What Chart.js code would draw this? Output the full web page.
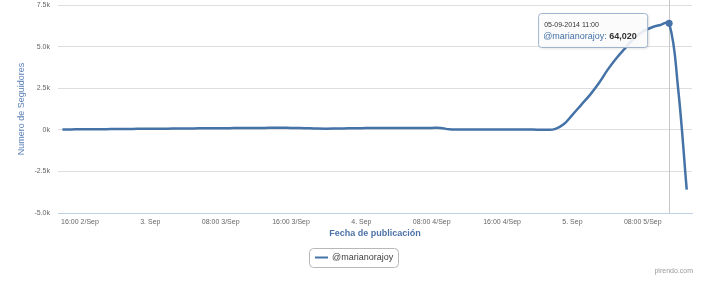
<!DOCTYPE html>
<html lang="es">
  <head>
    <title>seguidores</title>
    <meta charset="utf-8" />
    <script src="https://cdn.jsdelivr.net/npm/chart.js@4.4.9/dist/chart.umd.min.js"></script>
  </head>

  <body style="padding: 0; margin: 0; width: 720px; height: 283px; background: #fff">
    <canvas id="myChart" width="720" height="283"></canvas>

    <script>
      // hours counted from 00:00 2 Sep 2014
      const hours = [
        14, 15, 16, 17, 18, 19, 20, 21, 22, 23, 24, 25, 26, 27, 28, 29, 30, 31,
        32, 33, 34, 35, 36, 37, 38, 39, 40, 41, 42, 43, 44, 45, 46, 47, 48, 49,
        50, 51, 52, 53, 54, 55, 56, 57, 58, 59, 60, 61, 62, 63, 64, 65, 66, 67,
        68, 69, 70, 71, 72, 73, 74, 75, 76, 77, 78, 79, 80, 81, 82, 83, 84, 85,
      ];
      const seguidores = [
        20, 25, 30, 35, 40, 40, 45, 50, 55, 60, 60, 65, 70, 75, 80, 85, 90, 95,
        100, 100, 105, 110, 110, 115, 120, 120, 115, 110, 90, 75, 70, 75, 85, 95,
        100, 105, 105, 110, 110, 110, 105, 110, 115, 110, 30, 20, 20, 25, 25, 25,
        25, 25, 25, 20, 10, 0, 40, 330, 900, 1500, 2100, 2800, 3600, 4300, 4900,
        5500, 5900, 6150, 6300, 6402, 2600, -3600,
      ];
      const xTickHours = [16, 24, 32, 40, 48, 56, 64, 72, 80];
      const xTickLabels = [
        "16:00 2/Sep", "3. Sep", "08:00 3/Sep", "16:00 3/Sep", "4. Sep",
        "08:00 4/Sep", "16:00 4/Sep", "5. Sep", "08:00 5/Sep",
      ];
      const seriesName = "@marianorajoy";
      const tooltipDate = "05-09-2014 11:00";
      const tooltipValue = "64,020";

      const lineColor = "#4572a7";
      const fontFamily = "'Liberation Sans', Arial, sans-serif";
      const peakIndex = seguidores.indexOf(Math.max(...seguidores));

      const overlayPlugin = {
        id: "overlay",
        beforeDatasetsDraw(chart) {
          const pt = chart.getDatasetMeta(0).data[peakIndex];
          const { ctx, chartArea } = chart;
          ctx.save();
          ctx.strokeStyle = "#c8c8c8";
          ctx.lineWidth = 1;
          ctx.beginPath();
          ctx.moveTo(Math.round(pt.x) + 0.5, 0);
          ctx.lineTo(Math.round(pt.x) + 0.5, chartArea.bottom);
          ctx.stroke();
          ctx.restore();
        },
        afterDraw(chart) {
          const { ctx } = chart;
          const pt = chart.getDatasetMeta(0).data[peakIndex];
          ctx.save();

          // tooltip
          const bx = pt.x - 131, by = 13, bw = 109, bh = 34;
          ctx.shadowColor = "rgba(0,0,0,0.15)";
          ctx.shadowOffsetX = 1;
          ctx.shadowOffsetY = 1;
          ctx.shadowBlur = 3;
          ctx.fillStyle = "rgba(255,255,255,0.88)";
          ctx.strokeStyle = "#9fb3cf";
          ctx.lineWidth = 1;
          ctx.beginPath();
          ctx.roundRect(bx + 0.5, by + 0.5, bw, bh, 3);
          ctx.fill();
          ctx.shadowColor = "transparent";
          ctx.stroke();

          ctx.textBaseline = "middle";
          ctx.textAlign = "left";
          ctx.fillStyle = "#333";
          ctx.font = `7px ${fontFamily}`;
          ctx.fillText(tooltipDate, bx + 6, by + 12);
          ctx.font = `9px ${fontFamily}`;
          ctx.fillStyle = lineColor;
          const lbl = seriesName + ": ";
          ctx.fillText(lbl, bx + 5, by + 24);
          const w = ctx.measureText(lbl).width;
          ctx.font = `bold 9px ${fontFamily}`;
          ctx.fillStyle = "#333";
          ctx.fillText(tooltipValue, bx + 5 + w, by + 24);

          // legend
          const lx = 309, ly = 248, lw = 89, lh = 19;
          ctx.strokeStyle = "#b8b8b8";
          ctx.beginPath();
          ctx.roundRect(lx + 0.5, ly + 0.5, lw, lh, 4);
          ctx.stroke();
          ctx.strokeStyle = lineColor;
          ctx.lineWidth = 2;
          ctx.beginPath();
          ctx.moveTo(lx + 6, ly + 9.5);
          ctx.lineTo(lx + 19, ly + 9.5);
          ctx.stroke();
          ctx.font = `9px ${fontFamily}`;
          ctx.fillStyle = "#3e3e3e";
          ctx.fillText(seriesName, lx + 23, ly + 10);

          // credit
          ctx.font = `7px ${fontFamily}`;
          ctx.fillStyle = "#999";
          ctx.textAlign = "right";
          ctx.fillText("pirendo.com", 693, 271);
          ctx.restore();
        },
      };

      new Chart(document.getElementById("myChart"), {
        type: "line",
        data: {
          datasets: [
            {
              label: seriesName,
              data: hours.map((h, i) => ({ x: h, y: seguidores[i] })),
              borderColor: lineColor,
              backgroundColor: lineColor,
              borderWidth: 2.5,
              tension: 0.4,
              pointRadius: seguidores.map((_, i) => (i === peakIndex ? 3.5 : 0)),
              pointBorderWidth: 0,
            },
          ],
        },
        plugins: [overlayPlugin],
        options: {
          responsive: false,
          animation: false,
          layout: { padding: { left: 12, right: 28, top: 5, bottom: 40 } },
          plugins: { legend: { display: false }, tooltip: { enabled: false } },
          scales: {
            x: {
              type: "linear",
              min: 13.5,
              max: 85.6,
              afterBuildTicks: (s) => {
                s.ticks = xTickHours.map((v) => ({ value: v }));
              },
              afterFit: (s) => {
                s.height = 30;
                s.paddingLeft = 0;
                s.paddingRight = 0;
              },
              grid: { display: false, drawTicks: false },
              border: { display: true, color: "#c0d0e0", width: 1 },
              ticks: {
                autoSkip: false,
                maxRotation: 0,
                padding: 5,
                color: "#666",
                font: { family: fontFamily, size: 7 },
                callback: (v, i) => xTickLabels[i],
              },
              title: {
                display: true,
                text: "Fecha de publicación",
                color: "#4d72a8",
                font: { family: fontFamily, size: 9, weight: "bold" },
                padding: { top: 0, bottom: 4 },
              },
            },
            y: {
              min: -5000,
              max: 7500,
              afterFit: (s) => {
                s.width = 46;
                s.paddingTop = 0;
                s.paddingBottom = 0;
              },
              grid: { color: "#dedede", drawTicks: false },
              border: { display: false },
              ticks: {
                stepSize: 2500,
                padding: 8,
                color: "#666",
                font: { family: fontFamily, size: 7 },
                callback: (v) => (v === 0 ? "0k" : (v / 1000).toFixed(1) + "k"),
              },
              title: {
                display: true,
                text: "Numero de Seguidores",
                color: "#5b80b8",
                font: { family: fontFamily, size: 9 },
                padding: { top: 4, bottom: 0 },
              },
            },
          },
        },
      });
    </script>
  </body>
</html>
